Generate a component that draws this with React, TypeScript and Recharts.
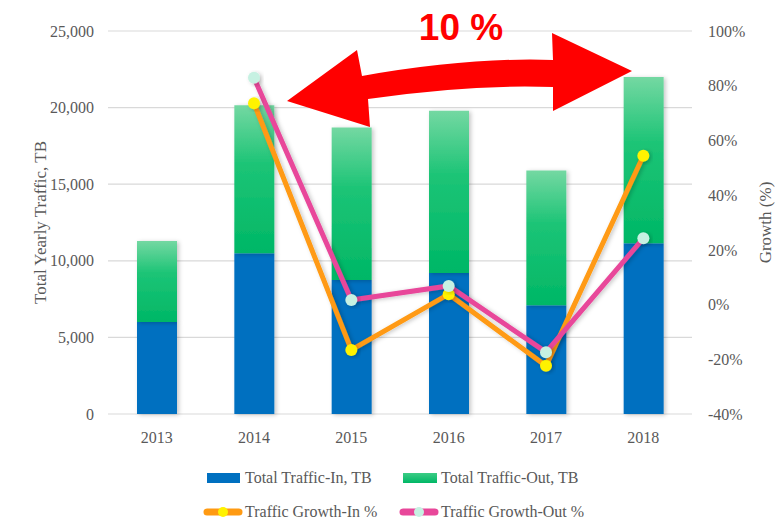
import { Bar, CartesianGrid, ComposedChart, Legend, Line, XAxis, YAxis } from 'recharts'

const YEARS = ['2013', '2014', '2015', '2016', '2017', '2018']
const TRAFFIC_IN = [6000, 10500, 8750, 9200, 7100, 11150]
const TRAFFIC_OUT = [5300, 9650, 9950, 10600, 8800, 10850]
const GROWTH_IN = [null, 73.6, -16.6, 3.8, -22.4, 54.4]
const GROWTH_OUT = [null, 82.9, 1.7, 6.8, -17.4, 24.2]
const LEFT_TICKS = [0, 5000, 10000, 15000, 20000, 25000]
const RIGHT_TICKS = [-40, -20, 0, 20, 40, 60, 80, 100]

const DATA = YEARS.map((year, i) => ({
  year,
  trafficIn: TRAFFIC_IN[i],
  trafficOut: TRAFFIC_OUT[i],
  growthIn: GROWTH_IN[i],
  growthOut: GROWTH_OUT[i],
}))

const SERIF = '"Liberation Serif", "Times New Roman", serif'
const GREY = '#595959'
const BLUE = '#0070C0'
const ORANGE = '#FF9A12'
const PINK = '#E8479A'
const YELLOW = '#FFF200'
const MINT = '#C6F1E2'

const tick = { fill: GREY, fontSize: 16, fontFamily: SERIF }

function LegendBox() {
  const text = { position: 'absolute' as const, fontSize: 16, color: GREY, fontFamily: SERIF, lineHeight: '18px' }
  const lineKey = (x: number, color: string, dot: string) => (
    <svg style={{ position: 'absolute', left: x, top: 42 }} width={40} height={16}>
      <line x1={4} y1={8} x2={36} y2={8} stroke={color} strokeWidth={7} strokeLinecap="round" />
      <circle cx={20} cy={8} r={5} fill={dot} />
    </svg>
  )
  return (
    <div style={{ position: 'relative', width: 780, height: 60 }}>
      <div style={{ position: 'absolute', left: 207, top: 11, width: 33, height: 10, background: BLUE }} />
      <span style={{ ...text, left: 245, top: 7 }}>Total Traffic-In, TB</span>
      <div style={{ position: 'absolute', left: 403, top: 11, width: 34, height: 10, background: 'linear-gradient(#3ccc85, #00b766)' }} />
      <span style={{ ...text, left: 441, top: 7 }}>Total Traffic-Out, TB</span>
      {lineKey(203, ORANGE, YELLOW)}
      <span style={{ ...text, left: 245, top: 41 }}>Traffic Growth-In %</span>
      {lineKey(399, PINK, MINT)}
      <span style={{ ...text, left: 441, top: 41 }}>Traffic Growth-Out %</span>
    </div>
  )
}

export default function App() {
  return (
    <div style={{ position: 'absolute', left: 0, top: 0, width: 780, height: 519, background: '#fff' }}>
      <ComposedChart width={780} height={519} data={DATA} margin={{ top: 31, right: 0, left: 0, bottom: 75 }}>
        <defs>
          <linearGradient id="outGrad" x1="0" y1="0" x2="0" y2="1">
            <stop offset="0%" stopColor="#74d8a2" />
            <stop offset="40%" stopColor="#1cc476" />
            <stop offset="100%" stopColor="#00b766" />
          </linearGradient>
          <filter id="shadow" x="-30%" y="-10%" width="160%" height="130%">
            <feDropShadow dx="2" dy="1" stdDeviation="2" floodColor="#000" floodOpacity="0.22" />
          </filter>
        </defs>
        <CartesianGrid yAxisId="left" vertical={false} stroke="#d9d9d9" strokeWidth={1.2} />
        <XAxis dataKey="year" height={30} axisLine={false} tickLine={false} tickMargin={12} tick={tick} />
        <YAxis yAxisId="left" width={108} domain={[0, 25000]} ticks={LEFT_TICKS} axisLine={false} tickLine={false}
          tickMargin={8} tick={tick} tickFormatter={(v: number) => v.toLocaleString('en-US')}
          label={{ value: 'Total Yearly Traffic, TB', angle: -90, position: 'center', dx: -14, fill: GREY, fontSize: 17, fontFamily: SERIF }} />
        <YAxis yAxisId="right" orientation="right" width={88} domain={[-40, 100]} ticks={RIGHT_TICKS} axisLine={false}
          tickLine={false} tickMargin={10} tick={tick} tickFormatter={(v: number) => `${v}%`}
          label={{ value: 'Growth (%)', angle: -90, position: 'center', dx: 29, fill: GREY, fontSize: 17, fontFamily: SERIF }} />
        <Legend verticalAlign="middle" wrapperStyle={{ left: 0, top: 462, width: 780 }} content={() => <LegendBox />} />
        <Bar yAxisId="left" dataKey="trafficIn" name="Total Traffic-In, TB" stackId="t" fill={BLUE} barSize={40}
          filter="url(#shadow)" isAnimationActive={false} />
        <Bar yAxisId="left" dataKey="trafficOut" name="Total Traffic-Out, TB" stackId="t" fill="url(#outGrad)" barSize={40}
          filter="url(#shadow)" isAnimationActive={false} />
        <Line yAxisId="right" dataKey="growthIn" name="Traffic Growth-In %" stroke={ORANGE} strokeWidth={5}
          filter="url(#shadow)" dot={{ r: 6, fill: YELLOW, stroke: 'none', fillOpacity: 1 }} activeDot={false}
          isAnimationActive={false} />
        <Line yAxisId="right" dataKey="growthOut" name="Traffic Growth-Out %" stroke={PINK} strokeWidth={5}
          filter="url(#shadow)" dot={{ r: 6, fill: MINT, stroke: 'none', fillOpacity: 1 }} activeDot={false}
          isAnimationActive={false} />
        <g>
          <path
            d="M287,101 L357,50 L362,76 Q470,57 553,60 L552,33 L632,71 L553,111 L553,87 Q470,84 368,99 L370,127 Z"
            fill="#FF0000"
          />
          <text x={461} y={40} textAnchor="middle" fill="#FF0000" fontSize={37} fontWeight="bold"
            fontFamily='"Liberation Sans", Arial, sans-serif'>10 %</text>
        </g>
      </ComposedChart>
    </div>
  )
}
